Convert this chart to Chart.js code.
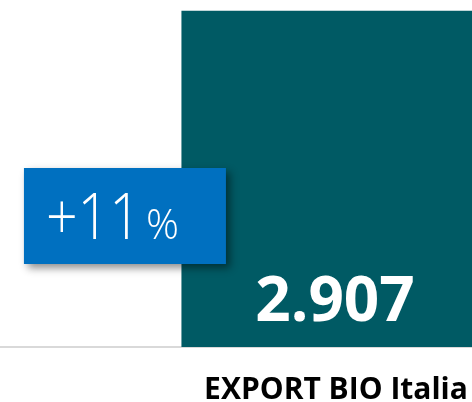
<!DOCTYPE html>
<html>
<head>
<meta charset="utf-8">
<script src="https://cdn.jsdelivr.net/npm/chart.js@4/dist/chart.umd.min.js"></script>
<style>
  html, body { margin: 0; padding: 0; background: #fff; }
  #wrap { width: 472px; height: 402px; overflow: hidden; position: relative; }
  #bar_chart { position: absolute; left: 0; top: 0; }
</style>
</head>
<body>
<div id="wrap"><canvas id="bar_chart" width="672" height="402"></canvas></div>
<script>
var categories = ['EXPORT BIO Italia'];
var exportValues = [2907];
var growthLabel = ['+11', '%'];

// value label inside the bar + growth badge
var labelsPlugin = {
    id: 'labels',
    afterDatasetsDraw: function(chart) {
        var ctx = chart.ctx;
        var bar = chart.getDatasetMeta(0).data[0];
        var left = bar.x - bar.width / 2;

        ctx.save();
        ctx.fillStyle = '#fff';
        ctx.font = 'bold 62px "Open Sans"';
        ctx.textAlign = 'center';
        ctx.textBaseline = 'alphabetic';
        ctx.fillText(exportValues[0].toLocaleString('it-IT'), bar.x - 1, chart.chartArea.bottom - 26, 160);

        // badge
        var bx = left - 157.5, by = 168, bw = 202, bh = 96;
        ctx.shadowColor = 'rgba(0,0,0,0.45)';
        ctx.shadowBlur = 8;
        ctx.shadowOffsetX = 4;
        ctx.shadowOffsetY = 4;
        ctx.fillStyle = '#0070c0';
        ctx.fillRect(bx, by, bw, bh);
        ctx.shadowColor = 'transparent';

        ctx.fillStyle = '#fff';
        ctx.textAlign = 'left';
        ctx.font = '300 64px "Open Sans"';
        ctx.fillText(growthLabel[0], bx + 22, by + 71, 95);
        ctx.font = '300 42px "Open Sans"';
        ctx.fillText(growthLabel[1], bx + 122, by + 71, 33);
        ctx.restore();
    }
};

var barData = {
    labels: categories,
    datasets: [
        {
            label: 'Export',
            backgroundColor: '#005a64',
            data: exportValues,
            barPercentage: 0.46,
            categoryPercentage: 1
        }
    ]
};
var barOptions = {
    responsive: false,
    animation: false,
    layout: { padding: 0 },
    plugins: { legend: { display: false }, tooltip: { enabled: false } },
    scales: {
        x: {
            grid: { display: false },
            border: { display: true, color: '#d9d9d9', width: 2 },
            ticks: { color: '#000', padding: 17, font: { family: 'Open Sans', size: 30, weight: 'bold' } },
            afterFit: function(scale) { scale.height = 55; }
        },
        y: { display: false, min: 0, max: 3000 }
    }
};

var ctx = document.getElementById('bar_chart').getContext('2d');
new Chart(ctx, {type: 'bar', data: barData, options: barOptions, plugins: [labelsPlugin]});
</script>
</body>
</html>
